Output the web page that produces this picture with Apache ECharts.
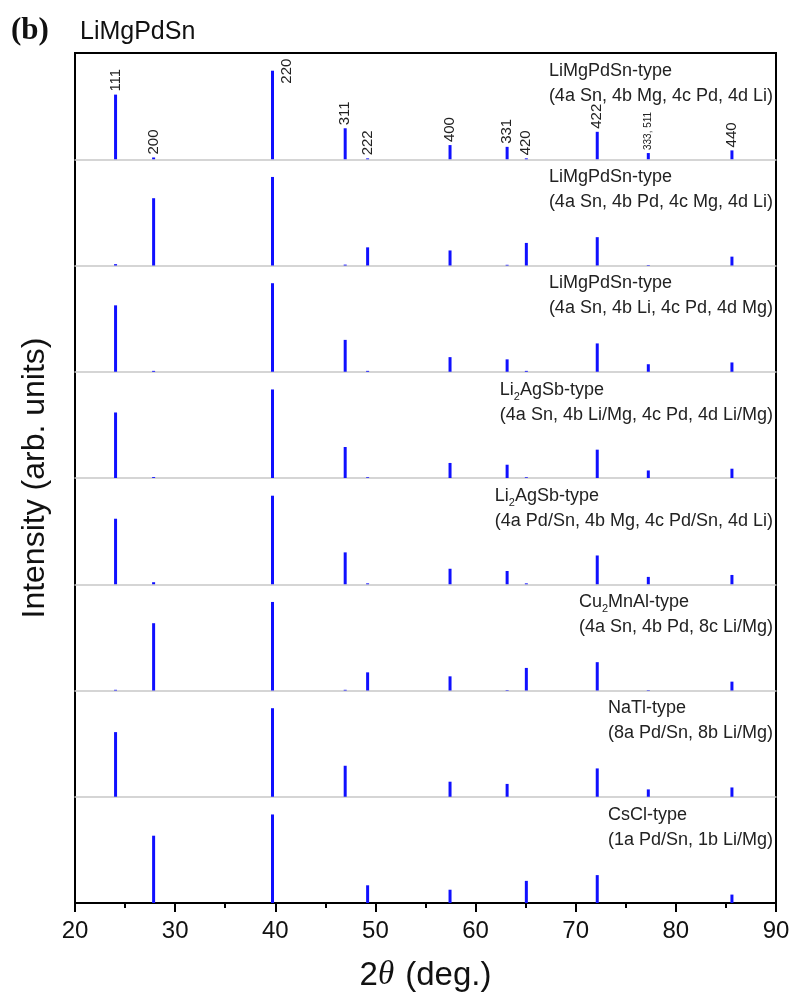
<!DOCTYPE html>
<html>
<head>
<meta charset="utf-8">
<script src="https://cdn.jsdelivr.net/npm/echarts@6/dist/echarts.min.js"></script>
<style>
  html, body { margin: 0; padding: 0; background: #fff; }
  #chart { width: 793px; height: 994px; }
</style>
</head>
<body>
<div id="chart"></div>
<script>
// Reflection positions (2θ, deg.) and their Miller indices
const peakPositions = [24.05, 27.85, 39.72, 46.98, 49.22, 57.45, 63.15, 65.07, 72.15, 77.25, 85.6];
const millerLabels = ['111', '200', '220', '311', '222', '400', '331', '420', '422', '333, 511', '440'];

// Relative intensities (220 = 100) for each ordering model, top to bottom
const intLiMgPdSn_A = [73, 2, 100, 35, 1, 16, 14, 1, 31, 7, 10];
const intLiMgPdSn_B = [1.5, 76, 100, 1, 20.5, 17, 0.8, 25.5, 32, 0.6, 10];
const intLiMgPdSn_C = [75, 1, 100, 36, 1, 16.5, 14, 1, 32, 8.5, 10.5];
const intLi2AgSb_A = [74, 1, 100, 35, 0.8, 17, 15, 0.8, 32, 8.5, 10.5];
const intLi2AgSb_B = [74, 2.3, 100, 36, 1, 17.5, 15, 1, 32.5, 8.3, 10.5];
const intCu2MnAl = [0.8, 76, 100, 0.8, 20.5, 16, 0.6, 25.5, 32, 0.5, 10];
const intNaTl = [73, 0, 100, 35, 0, 17, 14.5, 0, 32, 8.3, 10.5];
const intCsCl = [0, 76, 100, 0, 20, 15, 0, 25, 31.5, 0, 9.5];

const panelIntensities = [intLiMgPdSn_A, intLiMgPdSn_B, intLiMgPdSn_C, intLi2AgSb_A,
                          intLi2AgSb_B, intCu2MnAl, intNaTl, intCsCl];

// Structure-type captions ("_2" marks a subscript 2)
const structureTypes = ['LiMgPdSn-type', 'LiMgPdSn-type', 'LiMgPdSn-type', 'Li_2AgSb-type',
                        'Li_2AgSb-type', 'Cu_2MnAl-type', 'NaTl-type', 'CsCl-type'];
const siteOccupations = ['(4a Sn, 4b Mg, 4c Pd, 4d Li)', '(4a Sn, 4b Pd, 4c Mg, 4d Li)',
                         '(4a Sn, 4b Li, 4c Pd, 4d Mg)', '(4a Sn, 4b Li/Mg, 4c Pd, 4d Li/Mg)',
                         '(4a Pd/Sn, 4b Mg, 4c Pd/Sn, 4d Li)', '(4a Sn, 4b Pd, 8c Li/Mg)',
                         '(8a Pd/Sn, 8b Li/Mg)', '(1a Pd/Sn, 1b Li/Mg)'];

const xTickValues = [20, 30, 40, 50, 60, 70, 80, 90];

// ---- layout ----
const FONT = "'Liberation Sans', Arial, sans-serif";
const plotTop = 53, plotBottom = 903, plotLeft = 75, plotRight = 17;
const nPanels = panelIntensities.length;
const panelH = (plotBottom - plotTop) / nPanels;
const barColor = '#1010ff';

const chart = echarts.init(document.getElementById('chart'), null, { renderer: 'canvas' });

const grids = [], xAxes = [], yAxes = [], series = [], graphics = [];

for (let i = 0; i < nPanels; i++) {
  const isLast = i === nPanels - 1;
  grids.push({ left: plotLeft, right: plotRight, top: plotTop + i * panelH, height: panelH });
  xAxes.push({
    type: 'value', gridIndex: i, min: xTickValues[0], max: xTickValues[xTickValues.length - 1], interval: 10,
    axisLine: { show: true, onZero: false,
      lineStyle: isLast ? { color: '#000', width: 2 } : { color: '#c8c8c8', width: 1.5 } },
    axisTick: { show: isLast, inside: false, length: 9, lineStyle: { color: '#000', width: 2 } },
    minorTick: { show: isLast, splitNumber: 2, length: 5, lineStyle: { color: '#000', width: 2 } },
    axisLabel: { show: isLast, fontFamily: FONT, fontSize: 24, color: '#111', margin: 16 },
    splitLine: { show: false },
    name: isLast ? '{n|2}{i|θ}{n| (deg.)}' : '',
    nameLocation: 'middle', nameGap: 56,
    nameTextStyle: {
      rich: {
        n: { fontFamily: FONT, fontSize: 33, color: '#111' },
        i: { fontFamily: "'Liberation Serif', serif", fontStyle: 'italic', fontSize: 33, color: '#111',
             padding: [0, 2, 0, 0] }
      }
    }
  });
  yAxes.push({ type: 'value', gridIndex: i, min: 0, max: 120, show: false });

  const data = peakPositions.map((x, k) => {
    const item = { value: [x, panelIntensities[i][k]] };
    if (i === 0 && millerLabels[k] === '220') item.label = { offset: [-16, 14] };
    if (i === 0 && millerLabels[k] === '333, 511') item.label = { fontSize: 10 };
    return item;
  });

  series.push({
    type: 'bar', xAxisIndex: i, yAxisIndex: i, barWidth: 3,
    itemStyle: { color: barColor }, silent: true, animation: false,
    data: data,
    label: {
      show: i === 0, position: 'top', rotate: 90, align: 'left', verticalAlign: 'middle',
      distance: 3, fontFamily: FONT, fontSize: 15, color: '#222',
      formatter: p => millerLabels[p.dataIndex]
    }
  });

  graphics.push({
    type: 'text', right: 20, top: plotTop + i * panelH + 9, z: 10,
    style: {
      text: '{t|' + structureTypes[i].replace('_2', '}{s|2}{t|') + '}\n{t|' + siteOccupations[i] + '}',
      fill: '#222',
      rich: {
        t: { fontFamily: FONT, fontSize: 18, lineHeight: 25, fill: '#222' },
        s: { fontFamily: FONT, fontSize: 11, lineHeight: 14, verticalAlign: 'bottom', fill: '#222' }
      }
    }
  });
}

// Outer frame around all panels
grids.push({ left: plotLeft, right: plotRight, top: plotTop, height: plotBottom - plotTop,
             show: true, borderColor: '#000', borderWidth: 2, backgroundColor: 'transparent', z: 0 });
xAxes.push({ type: 'value', gridIndex: nPanels, min: 20, max: 90, show: false });
yAxes.push({ type: 'value', gridIndex: nPanels, min: 0, max: 1, show: false });

// Vertical axis title
graphics.push({
  type: 'text', x: 35, y: (plotTop + plotBottom) / 2, rotation: Math.PI / 2,
  style: { text: 'Intensity (arb. units)', fontFamily: FONT, fontSize: 32, fill: '#111',
           align: 'center', verticalAlign: 'middle' }
});

chart.setOption({
  animation: false,
  backgroundColor: '#fff',
  title: [
    { text: '(b)', left: 6, top: 10,
      textStyle: { fontFamily: "'Liberation Serif', serif", fontWeight: 'bold', fontSize: 31, color: '#111' } },
    { text: 'LiMgPdSn', left: 75, top: 15,
      textStyle: { fontFamily: FONT, fontWeight: 'normal', fontSize: 25, color: '#111' } }
  ],
  grid: grids,
  xAxis: xAxes,
  yAxis: yAxes,
  series: series,
  graphic: graphics
});
</script>
</body>
</html>
